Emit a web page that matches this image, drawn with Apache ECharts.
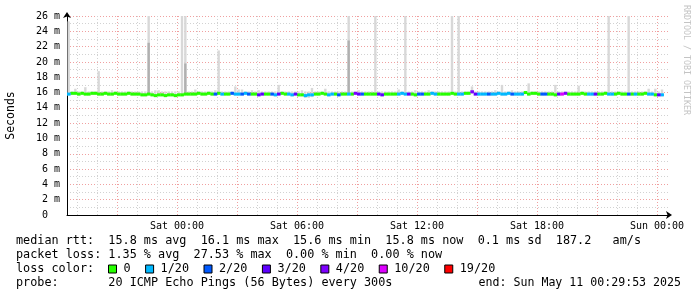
<!DOCTYPE html>
<html><head><meta charset="utf-8">
<script src="https://cdn.jsdelivr.net/npm/echarts@6/dist/echarts.min.js"></script>
<style>html,body{margin:0;padding:0;background:#fff}#c{width:697px;height:297px}</style>
</head><body><div id="c"></div>
<script>
// time: hours since Fri 00:00; one sample every 10 minutes from Fri 18:30
const startHour = 18.5;
const stepHours = 1 / 6;

// median RTT (ms)
const median = [
15.8,15.9,15.9,15.8,15.9,15.8,15.8,15.9,15.9,15.8,
15.8,15.9,15.8,15.8,15.9,15.8,15.8,15.8,15.9,15.8,
15.8,15.8,15.7,15.7,15.8,15.7,15.6,15.7,15.7,15.6,
15.7,15.7,15.6,15.7,15.7,15.8,15.8,15.8,15.8,15.9,
15.8,15.8,15.9,15.8,15.8,15.9,15.8,15.8,15.8,15.9,
15.8,15.8,15.8,15.9,15.8,15.8,15.8,15.7,15.8,15.8,
15.8,15.8,15.7,15.8,15.9,15.8,15.8,15.7,15.8,15.7,
15.7,15.6,15.7,15.7,15.8,15.8,15.9,15.8,15.7,15.8,
15.8,15.7,15.8,15.8,15.8,15.8,15.9,15.8,15.8,15.8,
15.8,15.8,15.8,15.8,15.7,15.8,15.8,15.8,15.8,15.8,
15.9,15.8,15.8,15.8,15.7,15.8,15.8,15.8,15.8,15.9,
15.8,15.8,15.8,15.8,15.8,15.9,15.8,15.8,15.8,15.9,
15.9,16.1,15.8,15.8,15.8,15.8,15.8,15.8,15.8,15.9,
15.8,15.8,15.9,15.8,15.8,15.8,15.8,16.0,15.8,15.9,
15.9,15.8,15.8,15.8,15.8,15.8,15.7,15.8,15.8,15.9,
15.8,15.8,15.8,15.8,15.9,15.8,15.8,15.8,15.8,15.8,
15.8,15.9,15.8,15.8,15.8,15.9,15.8,15.8,15.8,15.8,
15.8,15.8,15.8,15.9,15.8,15.8,15.7,15.7,15.7
];

// lost pings out of 20
const lossCount = [
1,0,0,0,0,0,0,0,0,0,
0,0,0,0,0,0,0,0,0,0,
0,0,0,0,0,0,0,0,0,0,
0,0,0,0,0,0,0,0,0,0,
0,0,0,0,2,0,1,0,0,2,
1,1,2,1,2,0,0,3,3,0,
0,2,1,3,0,0,1,1,3,0,
0,1,1,1,0,0,0,0,1,1,
0,2,0,0,1,0,4,3,2,0,
0,0,0,3,3,0,0,0,0,1,
1,1,3,0,0,2,2,0,0,1,
1,0,0,0,0,0,0,1,1,0,
0,4,3,1,1,1,2,1,1,1,
1,1,1,2,1,1,1,0,0,0,
0,0,2,2,0,0,0,3,10,4,
0,0,0,0,0,0,1,1,3,0,
0,0,1,1,0,0,0,0,2,0,
1,0,0,0,1,1,0,3,1
];

// highest ping (ms) per sample
const smokeHi = [
25.3,16.15,16.5,16.15,16.15,16.7,16.15,16.15,16.15,18.8,
16.15,16.15,16.15,16.3,16.15,16.15,16.15,16.15,16.15,16.15,
16.15,16.15,16.15,16.15,26,16.15,16.3,16.3,16.15,16.15,
16.15,16.15,16.15,16.15,26,26,16.15,16.15,16.4,16.15,
16.15,16.15,16.15,16.15,16.3,21.5,16.15,16.15,16.15,16.15,
16.8,16.4,16.4,16.15,16.15,16.3,16.15,16.3,16.15,16.15,
16.15,16.15,16.15,17.0,16.15,16.15,16.15,16.15,16.15,16.15,
16.3,16.15,16.15,16.6,16.15,16.15,16.15,16.5,16.15,16.15,
16.15,16.15,16.15,16.15,26,16.15,16.15,16.3,16.15,16.15,
16.15,16.15,26,16.15,16.15,16.15,16.15,16.15,16.15,16.4,
16.15,26,16.15,16.15,16.3,16.15,16.15,16.15,16.3,16.15,
16.15,16.15,16.15,16.15,16.15,26,16.15,26,16.15,16.15,
16.15,16.8,16.15,16.15,16.15,16.15,16.15,16.15,16.3,16.15,
17.0,16.15,16.15,16.3,16.15,16.15,16.15,16.15,17.2,16.15,
16.15,16.15,16.15,16.15,16.15,16.15,17.0,16.15,16.15,16.15,
16.15,16.15,16.15,16.9,16.15,16.15,16.15,16.15,16.15,16.15,
16.15,16.15,26,16.15,16.15,16.15,16.15,16.15,26,16.15,
16.15,16.15,16.15,16.15,16.5,16.15,16.5,16.15,16.4
];

// lowest ping (ms) per sample
const smokeLo = [
15.6,15.7,15.7,15.6,15.7,15.6,15.6,15.7,15.7,15.6,
15.6,15.7,15.6,15.6,15.7,15.6,15.6,15.6,15.7,15.6,
15.6,15.6,15.5,15.5,15.6,15.5,15.4,15.5,15.5,15.4,
15.5,15.5,15.4,15.5,15.5,15.6,15.6,15.6,15.6,15.7,
15.6,15.6,15.7,15.6,15.6,15.7,15.6,15.6,15.6,15.7,
15.6,15.6,15.6,15.7,15.6,15.6,15.6,15.5,15.6,15.6,
15.6,15.6,15.5,15.6,15.7,15.6,15.6,15.5,15.6,15.5,
15.5,15.3,15.3,15.4,15.6,15.6,15.7,15.6,15.5,15.6,
15.6,15.5,15.6,15.6,15.6,15.6,15.7,15.6,15.6,15.6,
15.6,15.6,15.6,15.6,15.5,15.6,15.6,15.6,15.6,15.6,
15.7,15.6,15.6,15.6,15.5,15.6,15.6,15.6,15.6,15.7,
15.6,15.6,15.6,15.6,15.6,15.7,15.6,15.6,15.6,15.7,
15.7,15.8,15.6,15.6,15.6,15.6,15.6,15.6,15.6,15.7,
15.6,15.6,15.7,15.6,15.6,15.6,15.6,15.8,15.6,15.7,
15.7,15.6,15.6,15.6,15.6,15.6,15.5,15.6,15.6,15.7,
15.6,15.6,15.6,15.6,15.7,15.6,15.6,15.6,15.6,15.6,
15.6,15.7,15.6,15.6,15.6,15.7,15.6,15.6,15.6,15.6,
15.6,15.6,15.6,15.7,15.6,15.6,15.5,15.5,15.5
];

// samples where many pings were high (second band of smoke)
const denseIdx = [24, 35, 84];
const denseTop = [22.5, 19.8, 22.8];

const lossLabels = ['0', '1/20', '2/20', '3/20', '4/20', '10/20', '19/20'];
const lossThresholds = [0, 1, 2, 3, 4, 10, 19];
const lossColors = ['#26ff00', '#00b8ff', '#0059ff', '#5e00ff', '#7e00ff', '#dd00ff', '#ff0000'];

const xTickHours = [24, 30, 36, 42, 48];
const xTickLabels = ['Sat 00:00', 'Sat 06:00', 'Sat 12:00', 'Sat 18:00', 'Sun 00:00'];
const yTickValues = [0, 2, 4, 6, 8, 10, 12, 14, 16, 18, 20, 22, 24, 26];
const yTickLabels = ['0  ', '2 m', '4 m', '6 m', '8 m', '10 m', '12 m', '14 m', '16 m', '18 m', '20 m', '22 m', '24 m', '26 m'];

const statLines = [
  'median rtt:  15.8 ms avg  16.1 ms max  15.6 ms min  15.8 ms now  0.1 ms sd  187.2   am/s',
  'packet loss: 1.35 % avg  27.53 % max  0.00 % min  0.00 % now',
  'loss color:',
  'probe:       20 ICMP Echo Pings (56 Bytes) every 300s'
];
const endText = 'end: Sun May 11 00:29:53 2025';
const watermark = 'RRDTOOL / TOBI OETIKER';

const MONO = '"DejaVu Sans Mono", monospace';
const chart = echarts.init(document.getElementById('c'), null, {renderer: 'canvas'});

function bucketOf(l) {
  let b = 0;
  for (let k = 0; k < lossThresholds.length; k++) if (l >= lossThresholds[k]) b = k;
  return b;
}

const smokeData = median.map((m, i) => [startHour + i * stepHours, smokeLo[i], smokeHi[i]]);
const denseData = denseIdx.map((i, k) => [startHour + i * stepHours, median[i], denseTop[k]]);
const bucketData = lossLabels.map(() => []);
median.forEach((m, i) => bucketData[bucketOf(lossCount[i])].push([startHour + i * stepHours, m]));

function bandRenderer(color, w) {
  return function (params, api) {
    const t = api.value(0) + stepHours / 2;
    const a = api.coord([t, api.value(1)]);
    const b = api.coord([t, api.value(2)]);
    return {type: 'rect', shape: {x: a[0] - w / 2, y: b[1], width: w, height: a[1] - b[1]},
      style: {fill: color}};
  };
}
function medianRenderer(color) {
  return function (params, api) {
    const t = api.value(0);
    const a = api.coord([t, api.value(1)]);
    const b = api.coord([t + stepHours, api.value(1)]);
    return {type: 'rect', shape: {x: a[0], y: a[1] - 1.5, width: b[0] - a[0] + 0.3, height: 3},
      style: {fill: color}};
  };
}

const series = [
  {type: 'custom', name: 'smoke', data: smokeData, encode: {x: 0, y: [1, 2]}, clip: true,
   renderItem: bandRenderer('#d8d8d8', 2.4), silent: true, z: 2},
  {type: 'custom', name: 'smoke2', data: denseData, encode: {x: 0, y: [1, 2]}, clip: true,
   renderItem: bandRenderer('#b0b0b0', 2.4), silent: true, z: 3}
];
lossLabels.forEach((lab, k) => {
  series.push({type: 'custom', name: lab, data: bucketData[k], encode: {x: 0, y: 1}, clip: true,
    itemStyle: {color: lossColors[k]}, renderItem: medianRenderer(lossColors[k]), silent: true, z: 4});
});

const RED = '#f0a0a0', GREY = '#d2d2d2';

chart.setOption({
  animation: false,
  backgroundColor: '#fff',
  grid: {left: 67, right: 28, top: 16, bottom: 82, containLabel: false, outerBoundsMode: 'none'},
  xAxis: {
    type: 'value', min: 18.5, max: 48.6, interval: 0.5,
    axisLine: {show: true, onZero: false, symbol: ['none', 'arrow'], symbolSize: [6, 6], symbolOffset: [0, 3],
      lineStyle: {color: '#000', width: 1}},
    axisTick: {show: false},
    axisLabel: {
      margin: 6, fontFamily: MONO, fontSize: 10, color: '#000',
      formatter: v => { const k = xTickHours.findIndex(h => Math.abs(h - v) < 1e-6); return k >= 0 ? xTickLabels[k] : ''; }
    },
    splitLine: {show: true, showMaxLine: false,
      lineStyle: {color: ['transparent', GREY, 'transparent', GREY, 'transparent', RED], type: [1, 2], width: 1}}
  },
  yAxis: {
    type: 'value', min: 0, max: 26, interval: 1,
    name: 'Seconds', nameLocation: 'middle', nameRotate: 90, nameGap: 50,
    nameTextStyle: {fontFamily: MONO, fontSize: 11.5, color: '#000'},
    axisLine: {show: true, symbol: ['none', 'arrow'], symbolSize: [6, 6], symbolOffset: [0, 4],
      lineStyle: {color: '#000', width: 1}},
    axisTick: {show: false},
    axisLabel: {
      margin: 7, fontFamily: MONO, fontSize: 10, color: '#000',
      formatter: v => { const k = yTickValues.findIndex(h => Math.abs(h - v) < 1e-6); return k >= 0 ? yTickLabels[k] : ''; }
    },
    splitLine: {show: true, lineStyle: {color: [RED, GREY], type: [1, 2], width: 1}}
  },
  legend: {
    show: true, data: lossLabels, left: 108, top: 263, orient: 'horizontal',
    icon: 'rect', itemWidth: 8, itemHeight: 8, itemGap: 14.5, selectedMode: false, padding: 0,
    itemStyle: {borderColor: '#000', borderWidth: 1},
    textStyle: {fontFamily: MONO, fontSize: 11.8, color: '#000', padding: [0, 0, 0, 2]}
  },
  graphic: [
    ...statLines.map((s, r) => ({type: 'text', x: 16, y: 241 + r * 14, silent: true,
      style: {text: s, fontFamily: MONO, fontSize: 11.8, fill: '#000', verticalAlign: 'middle'}})),
    {type: 'text', x: 681, y: 283, silent: true,
      style: {text: endText, fontFamily: MONO, fontSize: 11.6, fill: '#000', align: 'right', verticalAlign: 'middle'}},
    {type: 'text', x: 686, y: 60, rotation: -Math.PI / 2, silent: true,
      style: {text: watermark, fontFamily: MONO, fontSize: 8.3, fill: '#c4c4c4', align: 'center', verticalAlign: 'middle'}}
  ],
  series: series
});
</script>
</body></html>
